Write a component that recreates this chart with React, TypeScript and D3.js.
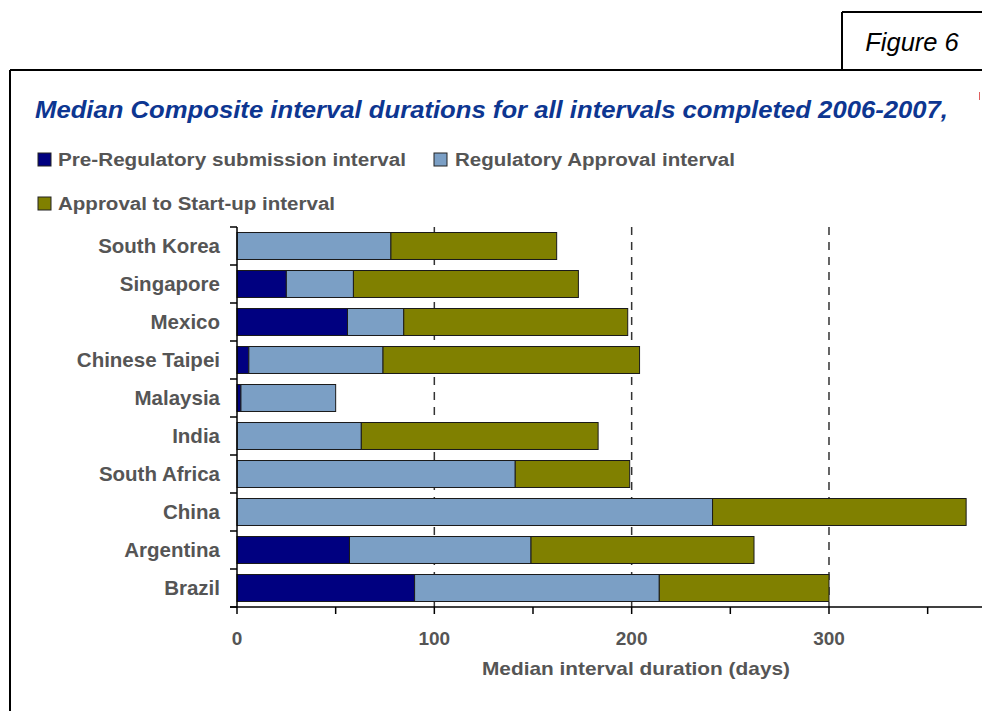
import React from "react";
import * as d3 from "d3";

const categories = ["South Korea", "Singapore", "Mexico", "Chinese Taipei", "Malaysia", "India", "South Africa", "China", "Argentina", "Brazil"];
const preRegulatory = [0, 25, 56, 6, 2, 0, 0, 0, 57, 90];
const regulatoryApproval = [78, 34, 28.5, 68, 48, 63, 141, 241, 92, 124];
const approvalToStartup = [84, 114, 113.5, 130, 0, 120, 58, 128.5, 113, 86];
const seriesNames = ["Pre-Regulatory submission interval", "Regulatory Approval interval", "Approval to Start-up interval"];
const seriesColors = ["#000080", "#7b9fc5", "#808000"];
const xTicks = [0, 50, 100, 150, 200, 250, 300, 350];
const xTickLabels = [0, 100, 200, 300];
const gridValues = [100, 200, 300];

const W = 982, H = 711;
const TEXT = "#555555";
const FONT = "'Liberation Sans', Arial, sans-serif";

export default function App() {
  const x = d3.scaleLinear().domain([0, 380]).range([237, 237 + 380 * 1.9733]);
  const y = d3.scaleBand<string>().domain(categories).range([227, 607]).paddingInner(0.29).paddingOuter(0.145);
  const step = y.step();
  const rows = categories.map((c, i) => ({ c, vals: [preRegulatory[i], regulatoryApproval[i], approvalToStartup[i]] }));
  const stack = d3.stack<any>().keys(["0", "1", "2"])(rows.map(r => ({ "0": r.vals[0], "1": r.vals[1], "2": r.vals[2], c: r.c })));

  return (
    <svg width={W} height={H} style={{ position: "absolute", left: 0, top: 0, background: "#fff" }} fontFamily={FONT}>
      <rect x={0} y={0} width={W} height={H} fill="#fff" />
      {/* frames */}
      <line x1={842} y1={12} x2={W} y2={12} stroke="#000" strokeWidth={2} />
      <line x1={842} y1={12} x2={842} y2={70} stroke="#000" strokeWidth={2} />
      <text x={912} y={51} fontSize={25.5} fontStyle="italic" fill="#000" textAnchor="middle">Figure 6</text>
      <line x1={10} y1={70} x2={W} y2={70} stroke="#000" strokeWidth={2} />
      <line x1={10} y1={70} x2={10} y2={H} stroke="#000" strokeWidth={2} />
      <line x1={979.5} y1={92} x2={979.5} y2={100} stroke="#e06060" strokeWidth={1} />

      {/* title */}
      <text x={35} y={118} fontSize={23} fontWeight="bold" fontStyle="italic" fill="#0d3691" textLength={913} lengthAdjust="spacingAndGlyphs">
        Median Composite interval durations for all intervals completed 2006-2007,
      </text>

      {/* legend */}
      {[{ sx: 38, sy: 153, tx: 58, ty: 166, tw: 348 }, { sx: 434, sy: 153, tx: 455, ty: 166, tw: 280 }, { sx: 38, sy: 197, tx: 58, ty: 210, tw: 277 }].map((p, i) => (
        <g key={i}>
          <rect x={p.sx} y={p.sy} width={13} height={13} fill={seriesColors[i]} stroke="#222" strokeWidth={1} />
          <text x={p.tx} y={p.ty} fontSize={18} fontWeight="bold" fill={TEXT} textLength={p.tw} lengthAdjust="spacingAndGlyphs">{seriesNames[i]}</text>
        </g>
      ))}

      {/* gridlines */}
      {gridValues.map(v => (
        <line key={v} x1={x(v)} x2={x(v)} y1={227} y2={607} stroke="#333" strokeWidth={1.5} strokeDasharray="8,7" />
      ))}

      {/* bars */}
      {stack.map((s, si) => (
        <g key={si}>
          {s.map((d, i) => (d[1] - d[0] > 0 ? (
            <rect key={i} x={x(d[0])} y={y(categories[i])!} width={x(d[1]) - x(d[0])} height={y.bandwidth()} fill={seriesColors[si]} stroke="#1a1a1a" strokeWidth={1} />
          ) : null))}
        </g>
      ))}

      {/* y axis */}
      <line x1={237} x2={237} y1={227} y2={607} stroke="#000" strokeWidth={1.5} />
      {d3.range(categories.length + 1).map(k => (
        <line key={k} x1={230} x2={237} y1={227 + k * step} y2={227 + k * step} stroke="#000" strokeWidth={1.5} />
      ))}
      {categories.map(c => (
        <text key={c} x={220} y={y(c)! + y.bandwidth() / 2 + 7} fontSize={20.5} fontWeight="bold" fill={TEXT} textAnchor="end">{c}</text>
      ))}

      {/* x axis */}
      <line x1={230} x2={W} y1={607} y2={607} stroke="#000" strokeWidth={1.5} />
      {xTicks.map(t => (
        <line key={t} x1={x(t)} x2={x(t)} y1={607} y2={614} stroke="#000" strokeWidth={1.5} />
      ))}
      {xTickLabels.map(t => (
        <text key={t} x={x(t)} y={645} fontSize={19} fontWeight="bold" fill={TEXT} textAnchor="middle">{t}</text>
      ))}
      <text x={636} y={675} fontSize={19} fontWeight="bold" fill={TEXT} textAnchor="middle" textLength={308} lengthAdjust="spacingAndGlyphs">Median interval duration (days)</text>
    </svg>
  );
}
